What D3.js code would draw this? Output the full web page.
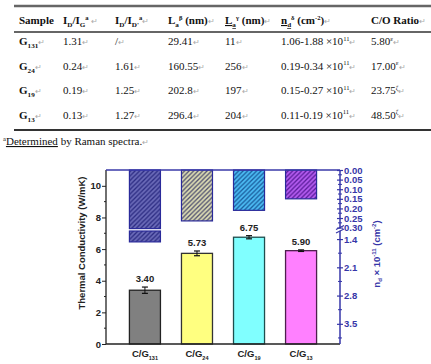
<!DOCTYPE html>
<html><head><meta charset="utf-8">
<script src="https://cdn.jsdelivr.net/npm/d3@7"></script>
<style>body{margin:0;background:#fff}svg{display:block}</style>
</head><body>
<script>
// ---------- table data ----------
const sampleSubs = ["131","24","19","13"];
const idIg = ["1.31","0.24","0.19","0.13"];
const idIdp = ["/","1.61","1.25","1.27"];
const laBeta = ["29.41","160.55","202.8","296.4"];
const laGamma = ["11","256","197","204"];
const ndRange = ["1.06-1.88","0.19-0.34","0.15-0.27","0.11-0.19"];
const coRatio = ["5.80","17.00","23.75","48.50"];
const coSup = ["ε","ε","ζ","ζ"];

// ---------- chart data ----------
const categories = ["131","24","19","13"];
const tcValues = [3.40, 5.73, 6.75, 5.90];
const tcErrors = [0.20, 0.15, 0.10, 0.05];
const ndMean = [1.47, 0.265, 0.21, 0.15];
const leftTicks = [0,2,4,6,8,10];
const rightTicksUpper = [0.00,0.05,0.10,0.15,0.20,0.25,0.30];
const rightTicksLower = [1.4,2.1,2.8,3.5];

const W = 431, H = 364;
const svg = d3.select("body").append("svg").attr("width", W).attr("height", H);

// ---------- table ----------
const serif = "'Liberation Serif','Times New Roman',serif";
const tbl = svg.append("g").attr("font-family", serif).attr("fill", "#111");
tbl.append("line").attr("x1",14).attr("x2",431).attr("y1",6).attr("y2",6).attr("stroke","#666").attr("stroke-width",2.5);
tbl.append("line").attr("x1",14).attr("x2",431).attr("y1",32).attr("y2",32).attr("stroke","#333").attr("stroke-width",1.5);
tbl.append("line").attr("x1",14).attr("x2",431).attr("y1",130).attr("y2",130).attr("stroke","#333").attr("stroke-width",2);

function rich(g, x, y, segs, opts) {
  const t = g.append("text").attr("x", x).attr("y", y)
    .attr("font-size", opts.size).attr("font-weight", opts.bold ? "bold" : "normal");
  let shift = 0;
  segs.forEach(s => {
    const sp = t.append("tspan").text(s.t);
    let target = 0, fs = opts.size;
    if (s.s === "sub") { target = opts.size*0.3; fs = opts.size*0.65; }
    if (s.s === "sup") { target = -opts.size*0.4; fs = opts.size*0.6; }
    if (s.s === "mark") { fs = opts.size*0.7; sp.attr("fill","#aaa").attr("font-weight","normal"); }
    sp.attr("dy", target - shift).attr("font-size", fs);
    if (s.u) sp.attr("text-decoration","underline");
    shift = target;
  });
  return t;
}
const colX = [19, 63, 115, 168, 225, 281, 371];
const mark = {t:"↵", s:"mark"};
const headers = [
  [{t:"Sample"}],
  [{t:"I"},{t:"D",s:"sub"},{t:"/I"},{t:"G",s:"sub"},{t:"a",s:"sup"},{t:"  "},mark],
  [{t:"I"},{t:"D",s:"sub"},{t:"/I"},{t:"D'",s:"sub"},{t:"a",s:"sup"},mark],
  [{t:"L"},{t:"a",s:"sub"},{t:"β",s:"sup"},{t:" (nm)"},mark],
  [{t:"L",u:true},{t:"a",s:"sub",u:true},{t:"γ",s:"sup"},{t:" (nm)"},mark],
  [{t:"n",u:true},{t:"d",s:"sub",u:true},{t:"δ",s:"sup"},{t:" (cm"},{t:"-2",s:"sup"},{t:")"},mark],
  [{t:"C/O Ratio"},mark]
];
headers.forEach((h,i) => rich(tbl, colX[i], 24, h, {size:11, bold:true}));
const rowY = [45, 69.5, 94, 118.5];
sampleSubs.forEach((s, r) => {
  const y = rowY[r];
  rich(tbl, colX[0], y, [{t:"G"},{t:s,s:"sub"},mark], {size:11, bold:true});
  rich(tbl, colX[1], y, [{t:idIg[r]},mark], {size:11});
  rich(tbl, colX[2], y, [{t:idIdp[r]},mark], {size:11});
  rich(tbl, colX[3], y, [{t:laBeta[r]},mark], {size:11});
  rich(tbl, colX[4], y, [{t:laGamma[r]},mark], {size:11});
  rich(tbl, colX[5], y, [{t:ndRange[r]+" ×10"},{t:"11",s:"sup"},mark], {size:11});
  rich(tbl, colX[6], y, [{t:coRatio[r]},{t:coSup[r],s:"sup"},mark], {size:11});
});
rich(tbl, 3, 145, [{t:"a",s:"sup"},{t:"Determined",u:true},{t:" by Raman spectra."},mark], {size:11});

// ---------- chart ----------
const L = 106, R = 340, T = 170, B = 344;
const sans = "Arial,'Liberation Sans',sans-serif";
const g = svg.append("g").attr("font-family", sans);
const x = d3.scaleBand().domain(categories).range([L, R]).paddingInner(0.404).paddingOuter(0.45);
const y = d3.scaleLinear().domain([0, 11]).range([B, T]);
const yU = d3.scaleLinear().domain([0, 0.305]).range([T, 228.6]);
const yL = d3.scaleLinear().domain([1.2, 4.0]).range([231, B]);

// hatch patterns
const hatch = [
  {fill:"#6a6ab8", line:"#2c2c82"},
  {fill:"#dcdcb4", line:"#505070"},
  {fill:"#4cbcf4", line:"#1a5c9c"},
  {fill:"#b45cf0", line:"#5a1c9a"}
];
const defs = svg.append("defs");
hatch.forEach((h,i) => {
  const p = defs.append("pattern").attr("id","h"+i).attr("patternUnits","userSpaceOnUse")
    .attr("width",4.5).attr("height",4.5);
  p.append("rect").attr("width",4.5).attr("height",4.5).attr("fill",h.fill);
  p.append("path").attr("d","M-1,1 L1,-1 M0,4.5 L4.5,0 M3.5,5.5 L5.5,3.5")
    .attr("stroke",h.line).attr("stroke-width",1.3);
});

// top (nd) hatched bars, hanging from top
categories.forEach((c,i) => {
  const v = ndMean[i];
  const bx = x(c), bw = x.bandwidth();
  if (v <= 0.305) {
    g.append("rect").attr("x",bx).attr("y",T).attr("width",bw).attr("height",yU(v)-T)
      .attr("fill","url(#h"+i+")").attr("stroke","#2a2a9a").attr("stroke-width",1.2);
  } else {
    g.append("rect").attr("x",bx).attr("y",T).attr("width",bw).attr("height",yU(0.305)-T)
      .attr("fill","url(#h"+i+")").attr("stroke","#2a2a9a").attr("stroke-width",1.2);
    g.append("rect").attr("x",bx).attr("y",yL(1.2)).attr("width",bw).attr("height",yL(v)-yL(1.2))
      .attr("fill","url(#h"+i+")").attr("stroke","#2a2a9a").attr("stroke-width",1.2);
  }
});

// bottom (thermal conductivity) bars
const barFill = ["#808080","#ffff80","#80ffff","#ff80ff"];
const barStroke = ["#222","#333","#1e4e4e","#4e1e4e"];
categories.forEach((c,i) => {
  const bx = x(c), bw = x.bandwidth(), cx = bx + bw/2;
  g.append("rect").attr("x",bx).attr("y",y(tcValues[i])).attr("width",bw).attr("height",B-y(tcValues[i]))
    .attr("fill",barFill[i]).attr("stroke",barStroke[i]).attr("stroke-width",1.3);
  const e1 = y(tcValues[i]+tcErrors[i]), e2 = y(tcValues[i]-tcErrors[i]);
  g.append("line").attr("x1",cx).attr("x2",cx).attr("y1",e1).attr("y2",e2).attr("stroke","#111").attr("stroke-width",1);
  [e1,e2].forEach(e => g.append("line").attr("x1",cx-3).attr("x2",cx+3).attr("y1",e).attr("y2",e).attr("stroke","#111").attr("stroke-width",1.2));
  g.append("text").attr("x",cx).attr("y",y(tcValues[i]+tcErrors[i])-5).attr("text-anchor","middle")
    .attr("font-size",9.5).attr("font-weight","bold").attr("fill","#222").text(tcValues[i].toFixed(2));
  const lab = g.append("text").attr("x",cx).attr("y",357).attr("text-anchor","middle")
    .attr("font-size",9.5).attr("font-weight","bold").attr("fill","#222");
  lab.append("tspan").text("C/G");
  lab.append("tspan").text(c).attr("font-size",5.5).attr("dy",3);
});

// left axis
const leftAxis = d3.axisLeft(y).tickValues(leftTicks).tickSize(4).tickFormat(d3.format("d"));
const la = g.append("g").attr("transform",`translate(${L},0)`).call(leftAxis);
la.select(".domain").remove();
la.selectAll("line").attr("stroke","#222");
la.selectAll("text").attr("font-size",9.5).attr("font-weight","bold").attr("fill","#222").attr("x",-5).attr("font-family",sans);
d3.range(1,11,2).forEach(v => g.append("line").attr("x1",L-2).attr("x2",L).attr("y1",y(v)).attr("y2",y(v)).attr("stroke","#222"));
g.append("line").attr("x1",L).attr("x2",L).attr("y1",T).attr("y2",B).attr("stroke","#222").attr("stroke-width",1.3);
g.append("line").attr("x1",L).attr("x2",R).attr("y1",B).attr("y2",B).attr("stroke","#222").attr("stroke-width",1.3);
g.append("line").attr("x1",L).attr("x2",R).attr("y1",T).attr("y2",T).attr("stroke","#3a3aa8").attr("stroke-width",1.3);
g.append("text").attr("transform",`translate(85,${(T+B)/2 - 14}) rotate(-90)`).attr("text-anchor","middle")
  .attr("font-size",9.5).attr("font-weight","bold").attr("fill","#222").text("Thermal Conductivity (W/mK)");

// right axis (broken)
const blue = "#3636a8";
g.append("line").attr("x1",R).attr("x2",R).attr("y1",T).attr("y2",B).attr("stroke",blue).attr("stroke-width",1.5);
const ra1 = g.append("g").attr("transform",`translate(${R},0)`)
  .call(d3.axisRight(yU).tickValues(rightTicksUpper).tickSize(3).tickFormat(d3.format(".2f")));
const ra2 = g.append("g").attr("transform",`translate(${R},0)`)
  .call(d3.axisRight(yL).tickValues(rightTicksLower).tickSize(3).tickFormat(d3.format(".1f")));
[ra1, ra2].forEach(a => {
  a.select(".domain").remove();
  a.selectAll("line").attr("stroke",blue).attr("x1",-3).attr("stroke-width",1.2);
  a.selectAll("text").attr("font-size",9.5).attr("font-weight","bold").attr("fill",blue).attr("x",4).attr("font-family",sans);
});
[1.75,2.45,3.15,3.85].forEach(v => g.append("line").attr("x1",R-2).attr("x2",R+2).attr("y1",yL(v)).attr("y2",yL(v)).attr("stroke",blue));
d3.range(0.025,0.3,0.05).forEach(v => g.append("line").attr("x1",R-2).attr("x2",R+2).attr("y1",yU(v)).attr("y2",yU(v)).attr("stroke",blue));
// break marks
g.append("rect").attr("x",R-2).attr("y",228.8).attr("width",4).attr("height",2).attr("fill","#fff");
[227.5, 231].forEach(yy => g.append("line").attr("x1",R-4).attr("x2",R+4).attr("y1",yy+2).attr("y2",yy-2).attr("stroke",blue).attr("stroke-width",1.2));
const rt = g.append("text").attr("transform",`translate(380,254) rotate(-90)`).attr("text-anchor","middle")
  .attr("font-size",9.5).attr("font-weight","bold").attr("fill",blue);
rt.append("tspan").text("n");
rt.append("tspan").text("d").attr("font-size",6).attr("dy",2);
rt.append("tspan").text(" × 10").attr("dy",-2);
rt.append("tspan").text("-11").attr("font-size",6).attr("dy",-4);
rt.append("tspan").text(" (cm").attr("dy",4);
rt.append("tspan").text("-2").attr("font-size",6).attr("dy",-4);
rt.append("tspan").text(")").attr("dy",4);
</script>
</body></html>
